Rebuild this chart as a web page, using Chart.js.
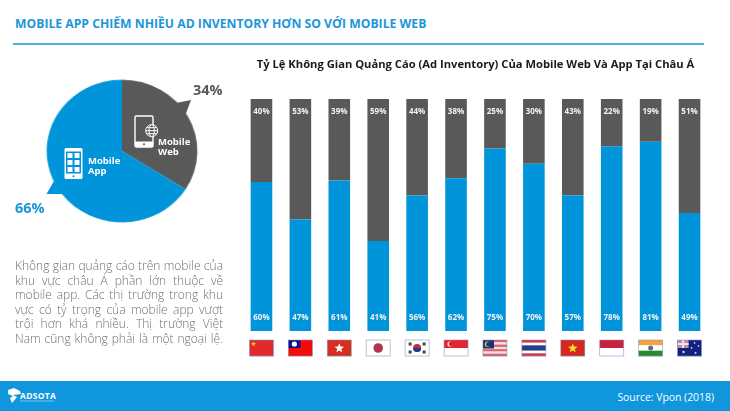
<!DOCTYPE html>
<html lang="vi">
<head>
<meta charset="utf-8">
<title>Mobile App vs Mobile Web</title>
<script src="https://cdn.jsdelivr.net/npm/chart.js@4"></script>
<style>
    html, body { margin: 0; padding: 0; background: #fff; }
    body { width: 730px; height: 411px; position: relative; overflow: hidden; font-family: "Open Sans", sans-serif; }
    .abs { position: absolute; white-space: nowrap; }
    #heading { left: 15px; top: 15px; font-size: 12.2px; line-height: 18px; font-weight: 700; color: #1c96d8; }
    #rule { left: 13px; top: 43px; width: 691px; height: 2px; background: #4db2e0; }
    #pieBox { left: 30px; top: 59px; width: 184px; height: 184px; transform: scale(1.025, 0.97); }
    #barBox { left: 232px; top: 50px; width: 487px; height: 320px; }
    #overlay { left: 0; top: 0; }
    #share34 { left: 193px; top: 80px; font-size: 14.5px; line-height: 20px; font-weight: 700; color: #595959; }
    #share66 { left: 15px; top: 198px; font-size: 14.5px; line-height: 20px; font-weight: 700; color: #1c96d8; }
    .pieLabel { font-size: 9.5px; line-height: 10px; font-weight: 700; color: #fff; }
    #intro { left: 15px; top: 259px; width: 208px; font-size: 12px; line-height: 14.55px; font-weight: 300; color: #6f6f6f; white-space: normal; }
    #intro div { text-align: justify; text-align-last: justify; white-space: nowrap; }
    #footer { left: 0; top: 381px; width: 730px; height: 30px; background: #0f96dc; }
    #source { right: 16px; top: 8px; font-size: 10.4px; line-height: 16px; color: #fff; }
    #brand { left: 20px; top: 10px; font-size: 8.5px; line-height: 10px; font-weight: 700; letter-spacing: .3px; color: #fff; }
</style>
</head>
<body>
<div class="abs" id="heading">MOBILE APP CHIẾM NHIỀU AD INVENTORY HƠN SO VỚI MOBILE WEB</div>
<div class="abs" id="rule"></div>

<div class="abs" id="pieBox"><canvas id="pieChart" width="184" height="184"></canvas></div>
<div class="abs" id="barBox"><canvas id="barChart" width="487" height="320"></canvas></div>

<div class="abs" id="footer">
    <div class="abs" id="brand">ADSOTA</div>
    <div class="abs" id="source">Source: Vpon (2018)</div>
</div>

<!-- Sprechblasen-Spitzen, Icons und Logo -->
<svg class="abs" id="overlay" width="730" height="411">
    <polygon points="176,103 191,100 185,116" fill="#595959"/>
    <polygon points="46.5,194 54,181 63,194" fill="#0095da"/>
    <rect x="64.5" y="148" width="18" height="31" rx="1.5" fill="#fff"/>
    <rect x="66" y="151.5" width="15" height="22" fill="#0095da"/>
    <g fill="#fff">
        <rect x="67.5" y="153" width="5" height="5"/><rect x="74.5" y="153" width="5" height="5"/>
        <rect x="67.5" y="160" width="5" height="5"/><rect x="74.5" y="160" width="5" height="5"/>
        <rect x="67.5" y="167" width="5" height="5"/><rect x="74.5" y="167" width="5" height="5"/>
    </g>
    <circle cx="73.5" cy="176.3" r="1" fill="#0095da"/>
    <rect x="135" y="116" width="18" height="31" rx="1.5" fill="none" stroke="#fff" stroke-width="1.4"/>
    <rect x="135" y="141.5" width="18" height="5.5" fill="#fff"/>
    <circle cx="144" cy="144.2" r="1" fill="#595959"/>
    <g fill="#595959" stroke="#fff" stroke-width="1">
        <circle cx="151.7" cy="130.7" r="6"/>
        <ellipse cx="151.7" cy="130.7" rx="2.6" ry="6"/>
        <path d="M145.7 130.7h12M146.5 127.7h10.4M146.5 133.7h10.4" fill="none"/>
    </g>
    <polygon points="8,390 14,388 20,391 21,394 13,395 17,397 12,403 10,398 13,396 8,394" fill="#fff"/>
    <rect x="20" y="400.5" width="34" height="1" fill="#fff" opacity="0.45"/>
</svg>

<div class="abs" id="share34">34%</div>
<div class="abs" id="share66">66%</div>
<div class="abs pieLabel" style="left:158px;top:137px">Mobile<br>Web</div>
<div class="abs pieLabel" style="left:88px;top:156px">Mobile<br>App</div>

<div class="abs" id="intro">
    <div>Không gian quảng cáo trên mobile của</div>
    <div>khu vực châu Á phần lớn thuộc về</div>
    <div>mobile app. Các thị trường trong khu</div>
    <div>vực có tỷ trọng của mobile app vượt</div>
    <div>trội hơn khá nhiều. Thị trường Việt</div>
    <div>Nam cũng không phải là một ngoại lệ.</div>
</div>

<script>
// Gesamtanteil
const pieLabels = ['Mobile Web', 'Mobile App'];
const pieValues = [34, 66];

// Länder (Reihenfolge wie in der Grafik)
const countries = ['China', 'Taiwan', 'Hong Kong', 'Japan', 'Korea', 'Singapore', 'Malaysia', 'Thailand', 'Vietnam', 'Indonesia', 'India', 'Australia'];

// Balkenhöhen (weichen leicht von den Beschriftungen ab)
const appHeights = [64.2, 48.1, 64.9, 38.8, 58.4, 65.8, 78.7, 72.1, 58.4, 79.6, 81.6, 50.9];
const webHeights = [35.8, 51.9, 35.1, 61.2, 41.6, 34.2, 21.3, 27.9, 41.6, 20.4, 18.4, 49.1];

// Beschriftungen in den Balken
const appLabels = ['60%', '47%', '61%', '41%', '56%', '62%', '75%', '70%', '57%', '78%', '81%', '49%'];
const webLabels = ['40%', '53%', '39%', '59%', '44%', '38%', '25%', '30%', '43%', '22%', '19%', '51%'];

const BLUE = '#0095da';
const DARK = '#595959';

// Kleine Flaggen, jeweils im Rechteck w x h
function star(ctx, cx, cy, r, color) {
    ctx.fillStyle = color;
    ctx.beginPath();
    for (let i = 0; i < 10; i++) {
        const rad = i % 2 ? r * 0.42 : r;
        const a = -Math.PI / 2 + i * Math.PI / 5;
        ctx.lineTo(cx + rad * Math.cos(a), cy + rad * Math.sin(a));
    }
    ctx.closePath();
    ctx.fill();
}

function stripes(ctx, w, h, colors) {
    colors.forEach((c, i) => {
        ctx.fillStyle = c;
        ctx.fillRect(0, i * h / colors.length, w, h / colors.length + 0.2);
    });
}

function dot(ctx, x, y, r, color) {
    ctx.fillStyle = color;
    ctx.beginPath();
    ctx.arc(x, y, r, 0, Math.PI * 2);
    ctx.fill();
}

const flags = {
    China(ctx, w, h) {
        stripes(ctx, w, h, ['#e22a2a']);
        star(ctx, 4, 4, 2.6, '#f6d21c');
    },
    Taiwan(ctx, w, h) {
        stripes(ctx, w, h, ['#f40a0a']);
        ctx.fillStyle = '#10108c';
        ctx.fillRect(0, 0, 12, 8);
        dot(ctx, 6, 4, 2.6, '#fff');
    },
    'Hong Kong'(ctx, w, h) {
        stripes(ctx, w, h, ['#d62f1f']);
        star(ctx, 12, 8.3, 5, '#fff');
    },
    Japan(ctx, w, h) {
        stripes(ctx, w, h, ['#fff']);
        dot(ctx, 12, 8, 4.8, '#b5344e');
    },
    Korea(ctx, w, h) {
        stripes(ctx, w, h, ['#fff']);
        dot(ctx, 12, 8, 4, '#c8293c');
        ctx.fillStyle = '#17408f';
        ctx.beginPath();
        ctx.arc(12, 8, 4, 0, Math.PI);
        ctx.fill();
        ctx.fillStyle = '#444';
        [[5, 4], [19, 4], [5, 12], [19, 12]].forEach(p => ctx.fillRect(p[0] - 1.5, p[1] - 1.5, 3, 3));
    },
    Singapore(ctx, w, h) {
        stripes(ctx, w, h, ['#e4252f', '#fff']);
        dot(ctx, 6, 4, 2.6, '#fff');
        dot(ctx, 7, 4, 2.4, '#e4252f');
    },
    Malaysia(ctx, w, h) {
        stripes(ctx, w, h, ['#d9626c', '#f4dfe0', '#d9626c', '#f4dfe0', '#d9626c', '#f4dfe0', '#d9626c']);
        ctx.fillStyle = '#1d2f73';
        ctx.fillRect(0, 0, 11, 8.5);
        dot(ctx, 4.5, 4.2, 2.6, '#f1d24a');
        dot(ctx, 5.4, 4.2, 2.2, '#1d2f73');
    },
    Thailand(ctx, w, h) {
        stripes(ctx, w, h, ['#cf3a45', '#fff', '#263f86', '#263f86', '#fff', '#cf3a45']);
    },
    Vietnam(ctx, w, h) {
        stripes(ctx, w, h, ['#d4281f']);
        star(ctx, 12, 8.3, 5, '#f9df2a');
    },
    Indonesia(ctx, w, h) {
        stripes(ctx, w, h, ['#c9213d', '#fff']);
    },
    India(ctx, w, h) {
        stripes(ctx, w, h, ['#f6a33f', '#fff', '#2b8a2c']);
        dot(ctx, 12, 8, 2.5, '#5b6b9e');
    },
    Australia(ctx, w, h) {
        stripes(ctx, w, h, ['#12207f']);
        ctx.fillStyle = '#c98aa0';
        ctx.fillRect(0, 0, 11, 8);
        ctx.fillStyle = '#e8e8f0';
        ctx.fillRect(4.5, 0, 2, 8);
        ctx.fillRect(0, 3, 11, 2);
        [[6, 12, 1.8], [17, 3, 1.2], [21, 6, 1.2], [14, 8, 1.2], [18, 13, 1.4]].forEach(s => star(ctx, s[0], s[1], s[2], '#fff'));
    }
};

// Prozentwerte in den Balken und Flaggen unter den Balken
const barDecorations = {
    id: 'barDecorations',
    afterDatasetsDraw(chart) {
        const ctx = chart.ctx;
        const area = chart.chartArea;
        const xScale = chart.scales.x;
        ctx.save();
        ctx.font = '700 8px "Open Sans", sans-serif';
        ctx.fillStyle = '#f2f2f2';
        ctx.textAlign = 'center';
        ctx.textBaseline = 'middle';
        countries.forEach((c, i) => {
            const x = xScale.getPixelForValue(i);
            ctx.fillText(webLabels[i], x, area.top + 13);
            ctx.fillText(appLabels[i], x, area.bottom - 13);
        });
        countries.forEach((c, i) => {
            const x = xScale.getPixelForValue(i);
            ctx.save();
            ctx.translate(x - 12, area.bottom + 9);
            flags[c](ctx, 24, 16);
            ctx.strokeStyle = 'rgba(130,150,190,0.7)';
            ctx.lineWidth = 0.8;
            ctx.strokeRect(0, 0, 24, 16);
            ctx.restore();
        });
        ctx.restore();
    }
};

new Chart(document.getElementById('pieChart').getContext('2d'), {
    type: 'pie',
    data: {
        labels: pieLabels,
        datasets: [{
            data: pieValues,
            backgroundColor: [DARK, BLUE],
            borderWidth: 0,
            radius: 73.5
        }]
    },
    options: {
        responsive: false,
        animation: false,
        plugins: { legend: { display: false }, tooltip: { enabled: false } }
    }
});

new Chart(document.getElementById('barChart').getContext('2d'), {
    type: 'bar',
    data: {
        labels: countries,
        datasets: [
            { label: 'Mobile App', data: appHeights, backgroundColor: BLUE },
            { label: 'Mobile Web', data: webHeights, backgroundColor: DARK }
        ]
    },
    options: {
        responsive: false,
        animation: false,
        layout: { padding: { left: 10, right: 10, top: 0, bottom: 39 } },
        datasets: { bar: { categoryPercentage: 1, barPercentage: 0.555 } },
        scales: {
            x: { stacked: true, display: false },
            y: { stacked: true, display: false, min: 0, max: 100 }
        },
        plugins: {
            legend: { display: false },
            tooltip: { enabled: false },
            title: {
                display: true,
                text: 'Tỷ Lệ Không Gian Quảng Cáo (Ad Inventory) Của Mobile Web Và App Tại Châu Á',
                color: '#1a1a1a',
                font: { family: '"Open Sans", sans-serif', size: 11.2, weight: '700', lineHeight: 1.2 },
                padding: { top: 8, bottom: 27.6 }
            }
        }
    },
    plugins: [barDecorations]
});
</script>
</body>
</html>
